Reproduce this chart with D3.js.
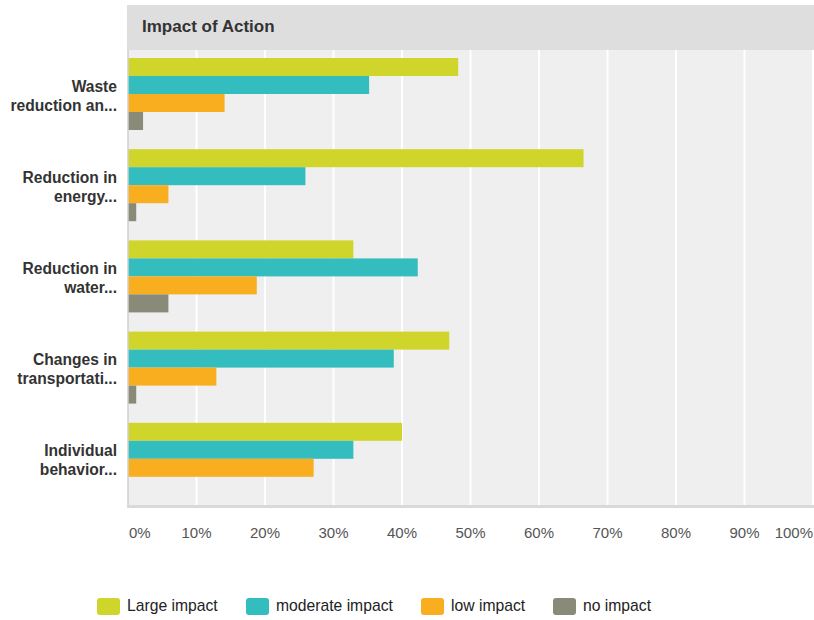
<!DOCTYPE html>
<html>
<head>
<meta charset="utf-8">
<script src="https://cdn.jsdelivr.net/npm/d3@7"></script>
<style>
  html, body { margin: 0; padding: 0; background: #fff; }
  svg { display: block; font-family: "Liberation Sans", Arial, sans-serif; }
</style>
</head>
<body>
<svg id="chart" width="814" height="620"></svg>
<script>
const title = "Impact of Action";
const categories = [
  ["Waste", "reduction an..."],
  ["Reduction in", "energy..."],
  ["Reduction in", "water..."],
  ["Changes in", "transportati..."],
  ["Individual", "behavior..."]
];
const seriesNames = ["Large impact", "moderate impact", "low impact", "no impact"];
const seriesColors = ["#cfd52a", "#33bdbf", "#f8ae1f", "#8a8a78"];
const largeImpact    = [48.2, 66.5, 32.9, 46.9, 40.0];
const moderateImpact = [35.2, 25.9, 42.3, 38.8, 32.9];
const lowImpact      = [14.1, 5.9, 18.8, 12.9, 27.1];
const noImpact       = [2.2, 1.2, 5.9, 1.2, 0];
const tickValues = [0, 10, 20, 30, 40, 50, 60, 70, 80, 90, 100];

const series = [largeImpact, moderateImpact, lowImpact, noImpact];

const svg = d3.select("#chart");
const plotLeft = 128, plotRight = 813, plotTop = 50, plotBottom = 506;

// header band
svg.append("rect").attr("x", 127).attr("y", 5).attr("width", 814 - 127).attr("height", 45).attr("fill", "#dedede");
svg.append("text").attr("x", 142).attr("y", 32).attr("font-size", 17).attr("font-weight", "bold")
  .attr("fill", "#333").text(title);

// plot background
svg.append("rect").attr("x", plotLeft).attr("y", plotTop).attr("width", 814 - plotLeft).attr("height", plotBottom - plotTop).attr("fill", "#efefef");

const x = d3.scaleLinear().domain([0, 100]).range([plotLeft, plotRight]);
const y = d3.scaleBand().domain(d3.range(categories.length)).range([plotTop, plotBottom]);
const barH = 18;
const barOffset = 8;

// gridlines
svg.append("g").selectAll("line").data(tickValues.slice(1)).join("line")
  .attr("x1", d => x(d)).attr("x2", d => x(d)).attr("y1", plotTop).attr("y2", plotBottom)
  .attr("stroke", "#fff").attr("stroke-width", 2);

// bars
const groups = svg.append("g").selectAll("g").data(categories).join("g")
  .attr("transform", (d, i) => `translate(0,${y(i) + barOffset})`);
series.forEach((vals, s) => {
  groups.append("rect")
    .attr("x", x(0))
    .attr("y", s * barH)
    .attr("height", barH)
    .attr("width", (d, i) => Math.max(0, x(vals[i]) - x(0)))
    .attr("fill", seriesColors[s]);
});

// axis lines
svg.append("line").attr("x1", plotLeft).attr("x2", plotLeft).attr("y1", plotTop).attr("y2", plotBottom + 2).attr("stroke", "#cfcfcf").attr("stroke-width", 1.5);
svg.append("line").attr("x1", plotLeft).attr("x2", 814).attr("y1", plotBottom + 0.5).attr("y2", plotBottom + 0.5).attr("stroke", "#d9d9d9").attr("stroke-width", 3);

// category labels
groups.each(function(d, i) {
  const t = d3.select(this).append("text")
    .attr("x", 117).attr("text-anchor", "end")
    .attr("font-size", 15.6).attr("font-weight", "bold").attr("fill", "#333");
  const cy = 36;
  d.forEach((line, k) => {
    t.append("tspan").attr("x", 117).attr("y", cy + (k - (d.length - 1) / 2) * 19 + 7).text(line);
  });
});

// x tick labels
svg.append("g").selectAll("text").data(tickValues).join("text")
  .attr("x", d => d === 0 ? x(d) + 1 : (d === 100 ? 813 : x(d)))
  .attr("text-anchor", d => d === 0 ? "start" : (d === 100 ? "end" : "middle"))
  .attr("y", 538).attr("font-size", 15).attr("fill", "#555")
  .text(d => d + "%");

// legend
const legendX = [97, 246, 421, 553];
const lg = svg.append("g").selectAll("g").data(seriesNames).join("g")
  .attr("transform", (d, i) => `translate(${legendX[i]},598)`);
lg.append("rect").attr("width", 23).attr("height", 17).attr("rx", 3).attr("fill", (d, i) => seriesColors[i]);
lg.append("text").attr("x", 30).attr("y", 13).attr("font-size", 15.7).attr("fill", "#222").text(d => d);
</script>
</body>
</html>
